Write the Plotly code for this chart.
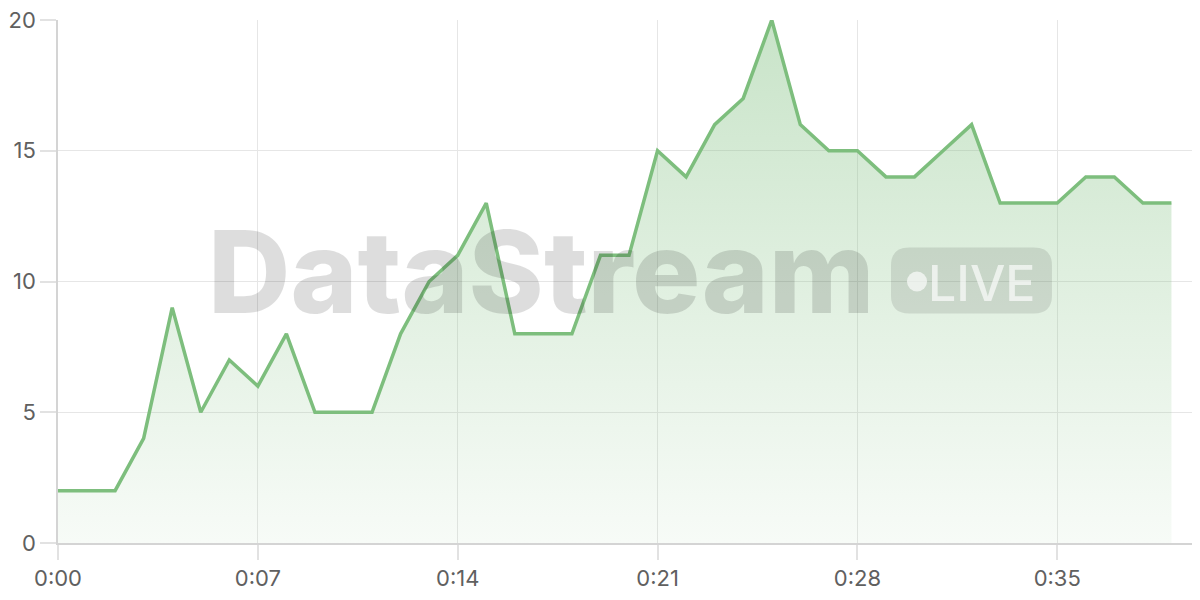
import plotly.graph_objects as go

# one reading per second
seconds = list(range(40))
values = [2, 2, 2, 4, 9, 5, 7, 6, 8, 5,
          5, 5, 8, 10, 11, 13, 8, 8, 8, 11,
          11, 15, 14, 16, 17, 20, 16, 15, 15, 14,
          14, 15, 16, 13, 13, 13, 14, 14, 13, 13]

x_tickvals = [0, 7, 14, 21, 28, 35]
x_ticktext = ["0:00", "0:07", "0:14", "0:21", "0:28", "0:35"]
y_tickvals = [0, 5, 10, 15, 20]

green = "rgb(125,190,125)"

fig = go.Figure()
fig.add_trace(go.Scatter(
    x=seconds, y=values,
    mode="lines",
    line=dict(color=green, width=3.5),
    fill="tozeroy",
    fillgradient=dict(
        type="vertical", start=0, stop=20,
        colorscale=[[0, "rgba(125,190,125,0.06)"], [1, "rgba(125,190,125,0.42)"]],
    ),
    hoverinfo="skip",
))

# watermark
fig.add_annotation(
    text="DataStream", xref="paper", yref="paper",
    x=0.4229, y=0.52, xanchor="center", yanchor="middle",
    showarrow=False,
    font=dict(family="Inter", size=114, weight=800, color="rgba(0,0,0,0.135)"),
)

# LIVE badge, rounded rect in paper coords
x0, x1, y0, y1 = 0.7294, 0.8704, 0.4389, 0.5649
rx, ry = 18 / 1142, 18 / 524
badge = (f"M {x0+rx},{y0} L {x1-rx},{y0} Q {x1},{y0} {x1},{y0+ry} "
         f"L {x1},{y1-ry} Q {x1},{y1} {x1-rx},{y1} L {x0+rx},{y1} "
         f"Q {x0},{y1} {x0},{y1-ry} L {x0},{y0+ry} Q {x0},{y0} {x0+rx},{y0} Z")
fig.add_shape(type="path", path=badge, xref="paper", yref="paper",
              fillcolor="rgba(0,0,0,0.1)", line_width=0, layer="above")
fig.add_shape(type="circle", xref="paper", yref="paper",
              x0=0.7522 - 0.0088, x1=0.7522 + 0.0088,
              y0=0.5 - 0.0191, y1=0.5 + 0.0191,
              fillcolor="rgba(255,255,255,0.65)", line_width=0, layer="above")
fig.add_annotation(
    text="LIVE", xref="paper", yref="paper",
    x=0.8095, y=0.497, xanchor="center", yanchor="middle",
    showarrow=False,
    font=dict(family="Inter", size=50, weight=500, color="rgba(255,255,255,0.65)"),
)

# page body has an 8px margin, so figure is shrunk/offset to keep plot box in place
fig.update_layout(
    width=1192, height=592,
    margin=dict(l=50, r=0, t=12, b=57, autoexpand=False),
    paper_bgcolor="white", plot_bgcolor="white",
    showlegend=False,
    font=dict(family="Inter", size=22, color="#606060"),
)
fig.update_xaxes(
    range=[0, 40], tickvals=x_tickvals, ticktext=x_ticktext,
    showgrid=True, gridcolor="#e6e6e6", gridwidth=1,
    ticks="outside", ticklen=15, tickcolor="#e2e2e2", tickwidth=1.5,
    showline=True, linecolor="#d4d4d4", linewidth=1.5,
    zeroline=False, automargin=False, ticklabeloverflow="allow",
)
fig.update_yaxes(
    range=[0, 20], tickvals=y_tickvals,
    showgrid=True, gridcolor="#e6e6e6", gridwidth=1,
    ticks="outside", ticklen=16, tickcolor="#e2e2e2", tickwidth=1.5,
    showline=True, linecolor="#d4d4d4", linewidth=1.5,
    zeroline=False, automargin=False, ticklabeloverflow="allow",
)

fig.write_html("out.html")
